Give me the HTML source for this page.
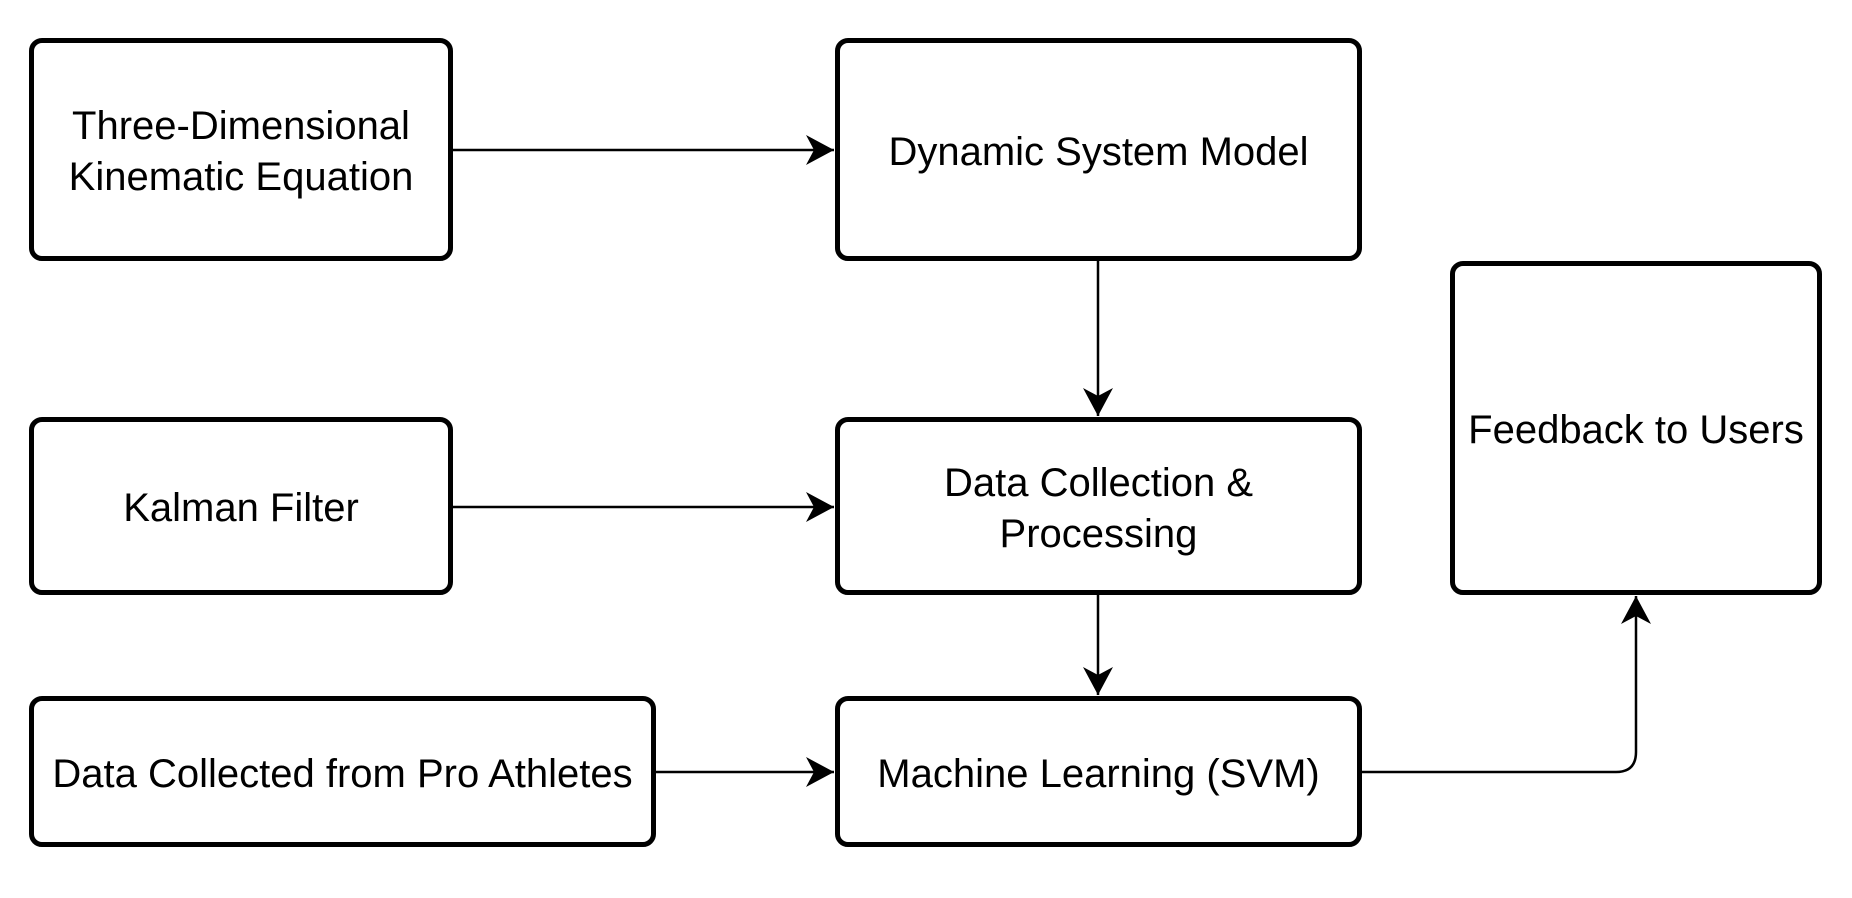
<!DOCTYPE html>
<html><head><meta charset="utf-8"><style>
html,body{margin:0;padding:0;background:#fff;}
body{width:1852px;height:898px;position:relative;overflow:hidden;font-family:"Liberation Sans",Arial,sans-serif;}
.b{position:absolute;box-sizing:border-box;border:5px solid #000;border-radius:13px;background:#fff;display:flex;align-items:center;justify-content:center;text-align:center;font-size:40px;line-height:51px;color:#000;padding-top:5px;}
svg{position:absolute;left:0;top:0;}
</style></head><body>
<svg width="1852" height="898" viewBox="0 0 1852 898">
<defs>
<marker id="a" markerWidth="30" markerHeight="32" refX="28" refY="16" orient="auto" markerUnits="userSpaceOnUse">
<path d="M0,1 L28,16 L0,31 L8,16 Z" fill="#000"/>
</marker>
</defs>
<g stroke="#000" stroke-width="2.5" fill="none">
<line x1="452" y1="150" x2="834" y2="150" marker-end="url(#a)"/>
<line x1="452" y1="507" x2="834" y2="507" marker-end="url(#a)"/>
<line x1="655" y1="772" x2="834" y2="772" marker-end="url(#a)"/>
<line x1="1098" y1="260" x2="1098" y2="416" marker-end="url(#a)"/>
<line x1="1098" y1="594" x2="1098" y2="695" marker-end="url(#a)"/>
<path d="M1361,772 L1616,772 Q1636,772 1636,752 L1636,596" marker-end="url(#a)"/>
</g>
</svg>
<div class="b" style="left:29px;top:38px;width:424px;height:223px;">Three-Dimensional<br>Kinematic Equation</div>
<div class="b" style="left:835px;top:38px;width:527px;height:223px;">Dynamic System Model</div>
<div class="b" style="left:29px;top:417px;width:424px;height:178px;">Kalman Filter</div>
<div class="b" style="left:835px;top:417px;width:527px;height:178px;">Data Collection &amp;<br>Processing</div>
<div class="b" style="left:29px;top:696px;width:627px;height:151px;">Data Collected from Pro Athletes</div>
<div class="b" style="left:835px;top:696px;width:527px;height:151px;">Machine Learning (SVM)</div>
<div class="b" style="left:1450px;top:261px;width:372px;height:334px;">Feedback to Users</div>
</body></html>
